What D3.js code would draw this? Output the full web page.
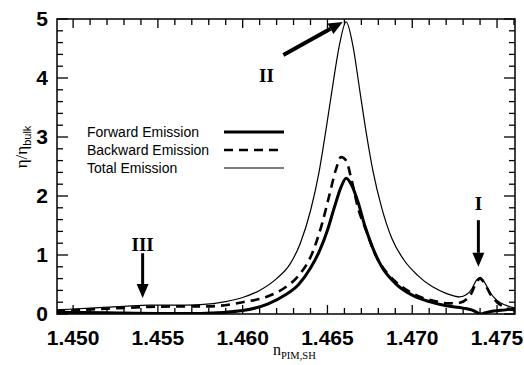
<!DOCTYPE html>
<html>
<head>
<meta charset="utf-8">
<script src="https://cdn.jsdelivr.net/npm/d3@7"></script>
<style>
  body { margin: 0; background: #fff; }
  svg { display: block; }
</style>
</head>
<body>
<div id="chart"></div>
<script>
// values
var totalN = [1.4490, 1.4510, 1.4530, 1.4545, 1.4560, 1.4575, 1.4590, 1.4600, 1.4610, 1.4620, 1.4628, 1.4634, 1.4640, 1.4645, 1.4649, 1.4653, 1.4657, 1.4661, 1.4665, 1.4669, 1.4673, 1.4677, 1.4682, 1.4688, 1.4695, 1.4703, 1.4712, 1.4720, 1.4728, 1.4732, 1.4735, 1.4738, 1.4740, 1.4743, 1.4746, 1.4750, 1.4755, 1.4761];
var totalV = [0.07, 0.10, 0.13, 0.15, 0.15, 0.16, 0.21, 0.28, 0.40, 0.60, 0.85, 1.20, 1.75, 2.40, 3.10, 3.85, 4.55, 4.95, 4.55, 3.80, 3.05, 2.40, 1.80, 1.28, 0.92, 0.66, 0.46, 0.35, 0.29, 0.33, 0.42, 0.58, 0.62, 0.52, 0.36, 0.23, 0.15, 0.10];

var forwardN = [1.4490, 1.4520, 1.4550, 1.4575, 1.4600, 1.4615, 1.4625, 1.4633, 1.4640, 1.4645, 1.4650, 1.4654, 1.4658, 1.4661, 1.4664, 1.4668, 1.4672, 1.4677, 1.4682, 1.4690, 1.4700, 1.4710, 1.4720, 1.4730, 1.4735, 1.4738, 1.4740, 1.4743, 1.4748, 1.4755, 1.4761];
var forwardV = [0.03, 0.02, 0.01, 0.01, 0.06, 0.17, 0.32, 0.50, 0.78, 1.05, 1.42, 1.80, 2.15, 2.30, 2.20, 1.90, 1.50, 1.10, 0.80, 0.52, 0.32, 0.21, 0.14, 0.10, 0.07, 0.03, 0.00, 0.02, 0.05, 0.07, 0.09];

var backwardN = [1.4490, 1.4520, 1.4545, 1.4565, 1.4580, 1.4600, 1.4615, 1.4625, 1.4633, 1.4641, 1.4647, 1.4651, 1.4655, 1.4658, 1.4661, 1.4664, 1.4668, 1.4673, 1.4678, 1.4685, 1.4693, 1.4703, 1.4713, 1.4722, 1.4728, 1.4732, 1.4735, 1.4738, 1.4740, 1.4743, 1.4746, 1.4750, 1.4755, 1.4761];
var backwardV = [0.05, 0.09, 0.12, 0.13, 0.13, 0.20, 0.30, 0.45, 0.65, 1.03, 1.55, 2.00, 2.45, 2.66, 2.60, 2.30, 1.80, 1.40, 1.02, 0.70, 0.48, 0.31, 0.22, 0.18, 0.19, 0.25, 0.36, 0.55, 0.60, 0.50, 0.34, 0.20, 0.11, 0.06];

var xTicks = [1.450, 1.455, 1.460, 1.465, 1.470, 1.475];
var xTickLabels = ["1.450", "1.455", "1.460", "1.465", "1.470", "1.475"];
var yTicks = [0, 1, 2, 3, 4, 5];
var legendNames = ["Forward Emission", "Backward Emission", "Total Emission"];

// arrows: [label, label n, label v, from n, from v, to n, to v]
var arrows = [
  ["II", 1.4614, 4.05, 1.4624, 4.39, 1.4659, 4.95],
  ["I", 1.4739, 1.88, 1.4739, 1.59, 1.4739, 0.80],
  ["III", 1.4541, 1.18, 1.4541, 1.03, 1.4541, 0.27]
];

var W = 524, H = 365;
var svg = d3.select("#chart").append("svg")
    .attr("width", W)
    .attr("height", H);

var x = d3.scaleLinear().domain([1.44905, 1.47606]).range([57, 515]);
var y = d3.scaleLinear().domain([0, 5]).range([314, 19]);

var xMinor = d3.range(1449, 1477).map(d => d / 1000).filter(d => d >= 1.44905 && d <= 1.47606);
var yMinor = d3.range(0, 26).map(d => d / 5);

// frame ticks, inward on all four sides
var ax = svg.append("g").attr("stroke", "#000").attr("stroke-width", 1.3);
xMinor.forEach(function(d) {
  var major = Math.abs(d * 200 - Math.round(d * 200)) < 1e-6;
  var len = major ? 9 : 6;
  ax.append("line").attr("x1", x(d)).attr("x2", x(d)).attr("y1", y(0)).attr("y2", y(0) - len);
  ax.append("line").attr("x1", x(d)).attr("x2", x(d)).attr("y1", y(5)).attr("y2", y(5) + len);
});
yMinor.forEach(function(d) {
  var major = Math.abs(d - Math.round(d)) < 1e-6;
  var len = major ? 11 : 6;
  ax.append("line").attr("x1", x.range()[0]).attr("x2", x.range()[0] + len).attr("y1", y(d)).attr("y2", y(d));
  ax.append("line").attr("x1", x.range()[1]).attr("x2", x.range()[1] - len).attr("y1", y(d)).attr("y2", y(d));
});
svg.append("rect")
    .attr("x", x.range()[0]).attr("y", y(5))
    .attr("width", x.range()[1] - x.range()[0])
    .attr("height", y(0) - y(5))
    .attr("fill", "none").attr("stroke", "#000").attr("stroke-width", 1.5);

// tick labels
svg.append("g").selectAll("text").data(xTicks).enter().append("text")
    .attr("x", d => x(d))
    .attr("y", 345)
    .attr("text-anchor", "middle")
    .style("font", "bold 21px 'Liberation Sans', Arial, sans-serif")
    .text((d, i) => xTickLabels[i]);
svg.append("g").selectAll("text").data(yTicks).enter().append("text")
    .attr("x", 48)
    .attr("y", d => y(d) + 7)
    .attr("text-anchor", "end")
    .style("font", "bold 21px 'Liberation Sans', Arial, sans-serif")
    .text(d => d);

// axis titles
var yl = svg.append("text")
    .attr("transform", "translate(27,147) rotate(-90)")
    .attr("text-anchor", "middle")
    .style("font-family", "'Liberation Serif', 'DejaVu Serif', serif")
    .style("font-size", "17px");
yl.append("tspan").text("\u03b7/\u03b7");
yl.append("tspan").attr("dy", 4).style("font-family", "'Liberation Sans', Arial, sans-serif").style("font-size", "11px").text("bulk");

var xl = svg.append("text")
    .attr("x", 273).attr("y", 355)
    .style("font-family", "'Liberation Serif', 'DejaVu Serif', serif")
    .style("font-size", "16px");
xl.append("tspan").text("n");
xl.append("tspan").attr("dy", 4).style("font-size", "10.5px").text("PIM,SH");

// curves
var line = d3.line()
    .x(d => x(d[0]))
    .y(d => y(d[1]))
    .curve(d3.curveMonotoneX);

svg.append("clipPath").attr("id", "plotclip").append("rect")
    .attr("x", x.range()[0]).attr("y", y(5) - 3)
    .attr("width", x.range()[1] - x.range()[0]).attr("height", y(0) - y(5) + 3);

var plot = svg.append("g").attr("clip-path", "url(#plotclip)");
var series = [
  { n: forwardN, v: forwardV, width: 3, dash: null },
  { n: backwardN, v: backwardV, width: 2.6, dash: "9,6" },
  { n: totalN, v: totalV, width: 1.2, dash: null }
];
series.forEach(function(s) {
  plot.append("path")
      .datum(s.n.map((n, i) => [n, s.v[i]]))
      .attr("d", line)
      .attr("fill", "none")
      .attr("stroke", "#000")
      .attr("stroke-width", s.width)
      .attr("stroke-dasharray", s.dash);
});

// legend
var leg = svg.append("g");
series.forEach(function(s, i) {
  var ly = 132 + i * 18;
  leg.append("text")
      .attr("x", 87).attr("y", ly + 5)
      .style("font", "14px 'Liberation Sans', Arial, sans-serif")
      .text(legendNames[i]);
  leg.append("line")
      .attr("x1", 224).attr("x2", 284)
      .attr("y1", ly).attr("y2", ly)
      .attr("stroke", "#000")
      .attr("stroke-width", s.width)
      .attr("stroke-dasharray", s.dash);
});

// arrows with labels
arrows.forEach(function(a) {
  var x1 = x(a[3]), y1 = y(a[4]), x2 = x(a[5]), y2 = y(a[6]);
  var ang = Math.atan2(y2 - y1, x2 - x1);
  var hl = 14, hw = 6;
  var bx = x2 - hl * Math.cos(ang), by = y2 - hl * Math.sin(ang);
  svg.append("line")
      .attr("x1", x1).attr("y1", y1).attr("x2", bx).attr("y2", by)
      .attr("stroke", "#000").attr("stroke-width", a[0] === "II" ? 4 : 3);
  svg.append("path")
      .attr("d", "M" + x2 + "," + y2 +
                 "L" + (bx + hw * Math.sin(ang)) + "," + (by - hw * Math.cos(ang)) +
                 "L" + (bx - hw * Math.sin(ang)) + "," + (by + hw * Math.cos(ang)) + "Z")
      .attr("fill", "#000");
  svg.append("text")
      .attr("x", x(a[1])).attr("y", y(a[2]) + 7)
      .attr("text-anchor", "middle")
      .style("font", "bold 19px 'Liberation Serif', 'Times New Roman', serif")
      .text(a[0]);
});
</script>
</body>
</html>
